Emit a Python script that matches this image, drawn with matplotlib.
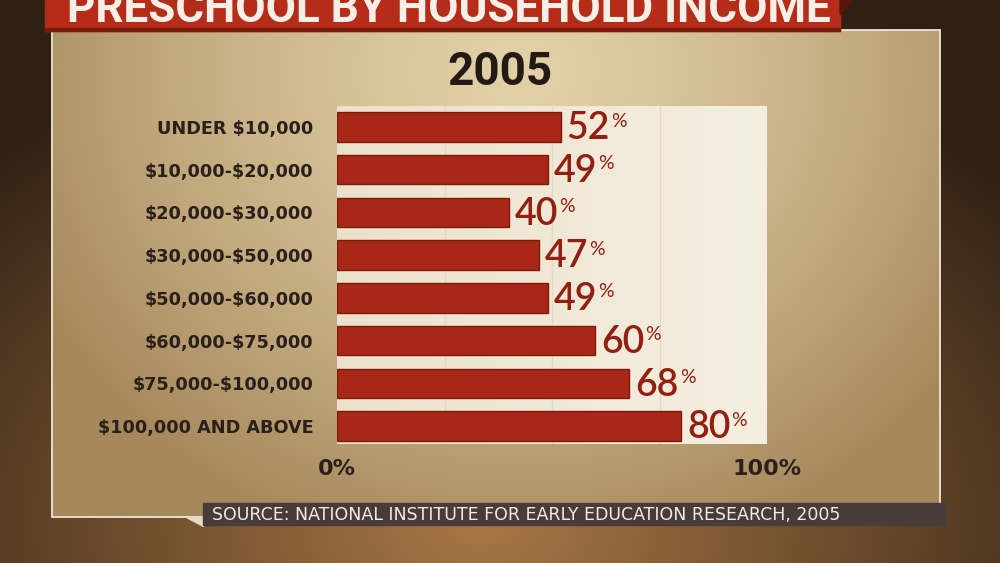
import numpy as np
import matplotlib.pyplot as plt
from matplotlib.patches import Rectangle, Polygon

# chart data
categories = ["UNDER $10,000", "$10,000-$20,000", "$20,000-$30,000", "$30,000-$50,000",
              "$50,000-$60,000", "$60,000-$75,000", "$75,000-$100,000", "$100,000 AND ABOVE"]
values = [52, 49, 40, 47, 49, 60, 68, 80]
axis_ticks = [0, 100]
axis_labels = ["0%", "100%"]
title = "PRESCHOOL BY HOUSEHOLD INCOME"
year = "2005"
source = "SOURCE: NATIONAL INSTITUTE FOR EARLY EDUCATION RESEARCH, 2005"

W, H = 1000, 563


def mix(c1, c2, t):
    c1 = np.array(c1) / 255.0
    c2 = np.array(c2) / 255.0
    return c1[None, None, :] * (1 - t[..., None]) + c2[None, None, :] * t[..., None]


fig = plt.figure(figsize=(10, 5.63), dpi=100)
renderer = fig.canvas.get_renderer()

# background layer in pixel coordinates
bg = fig.add_axes([0, 0, 1, 1])
bg.set_xlim(0, W)
bg.set_ylim(H, 0)
bg.axis("off")

yy, xx = np.mgrid[0:H, 0:W].astype(float)
d = np.clip(np.hypot((xx - 480) / 720, (yy - 520) / 500), 0, 1)
bg.imshow(mix((168, 120, 70), (48, 32, 20), d), extent=(0, W, H, 0), aspect="auto", zorder=0)

# panel
px0, px1, py0, py1 = 52, 940, 30, 517
py, pxx = np.mgrid[py0:py1, px0:px1].astype(float)
dp = np.clip(np.hypot((pxx - 520) / 540, (py - 70) / 500), 0, 1)
bg.imshow(mix((226, 208, 166), (166, 136, 92), dp ** 1.4), extent=(px0, px1, py1, py0),
          aspect="auto", zorder=1)
bg.add_patch(Rectangle((px0, py0), px1 - px0, py1 - py0, fill=False,
                       edgecolor="#efe6d2", lw=1.3, zorder=2))

# red banner with the cut-off title
bg.add_patch(Rectangle((45, 0), 795, 31, color="#b52d18", zorder=3))
bg.add_patch(Rectangle((45, 28), 795, 3, color="#7a1b0d", zorder=3))
bg.add_patch(Polygon([(840, 0), (853, 0), (840, 15)], color="#5c150a", zorder=3))
tt = bg.text(449, 22, title, ha="center", va="baseline", fontsize=36, fontweight="bold",
             color="#f6efe8", family="Roboto", zorder=4)
# fit the title to the banner width
tw = tt.get_window_extent(renderer).width
tt.set_fontsize(36 * 765 / tw)

bg.text(500, 72, year, ha="center", va="center", fontsize=33, fontweight="bold",
        color="#231a16", family="Roboto", zorder=4)

# source strip
bg.add_patch(Polygon([(186, 517), (203, 517), (203, 526)], color="#e8dcc6", zorder=3))
bg.add_patch(Rectangle((203, 503), 742, 22, color="#4a3b3b", zorder=3))
bg.text(212, 514.5, source, ha="left", va="center", fontsize=12.5,
        color="#f0ebe6", zorder=4)

# bar chart
n = len(values)
ax = fig.add_axes([337 / W, (H - 444) / H, 430 / W, 338 / H])
ax.set_xlim(0, 100)
ax.set_ylim(n - 0.58, -0.49)

gx = np.linspace(0, 1, 200)[None, :] * np.ones((50, 1))
ax.imshow(mix((236, 225, 204), (245, 239, 226), gx), extent=(0, 100, n - 0.58, -0.49),
          aspect="auto", zorder=0)
for x in (25, 50, 75):
    ax.axvline(x, color=(0.89, 0.85, 0.77), lw=1, zorder=0.5)

ypos = np.arange(n)
ax.barh(ypos, values, height=0.69, color="#a92716", edgecolor="#7d1a0e", lw=1, zorder=2)

for i, v in enumerate(values):
    t = ax.text(v + 1.4, i + 0.04, str(v), ha="left", va="center", fontsize=27,
                fontweight="semibold", color="#931f12", family="Lato", zorder=3)
    ax.annotate("%", xy=(1, 1), xycoords=t, xytext=(0.6, -1), textcoords="offset points",
                ha="left", va="top", fontsize=14, color="#931f12", family="Lato")

ax.set_yticks(ypos)
ax.set_yticklabels([c.replace("$", r"\$") for c in categories], fontsize=12.7,
                   fontweight="bold", color="#2a1f1a")
ax.set_xticks(axis_ticks)
ax.set_xticklabels(axis_labels, fontsize=16, fontweight="bold", color="#2a1f1a")
ax.tick_params(axis="y", length=0, pad=17)
ax.tick_params(axis="x", length=0, pad=11)
for s in ax.spines.values():
    s.set_visible(False)

fig.savefig("out.png", dpi=100)
